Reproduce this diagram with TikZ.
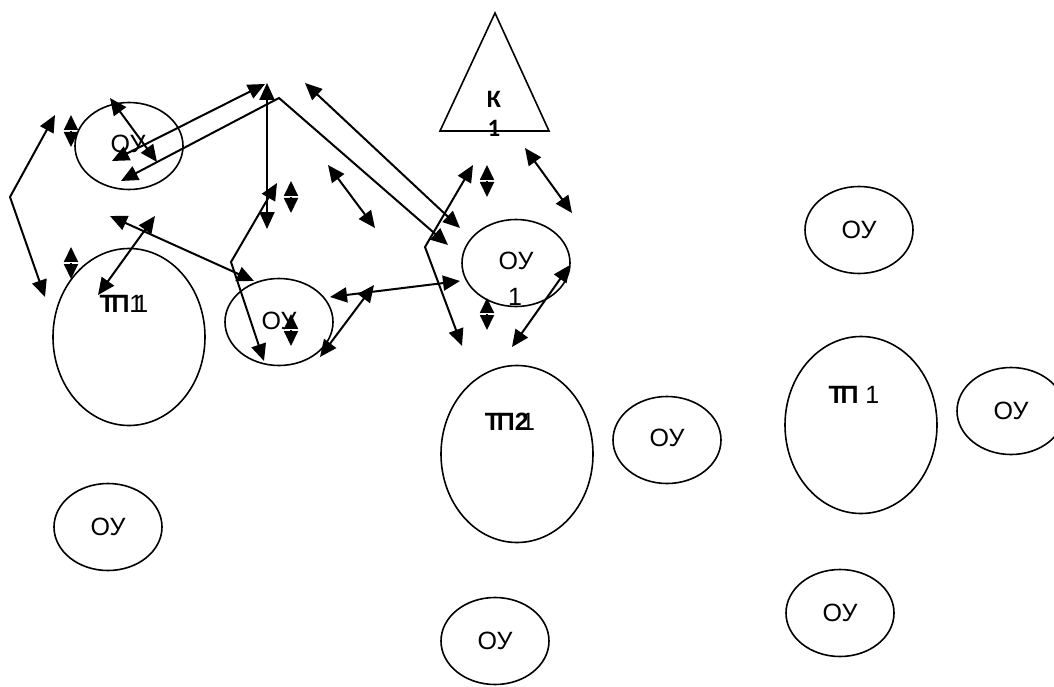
\documentclass[tikz,border=0pt]{standalone}
\usepackage{fontspec}
\setmainfont{Liberation Sans}
\newfontfamily\kfont{Carlito}
\usetikzlibrary{arrows.meta,shapes.geometric}
\newcommand{\tpw}{\textbf{Т\kern-0.14emП}}
\tikzset{
  shp/.style={draw, line width=1.6pt, ellipse, inner sep=0pt},
  ou/.style={shp, minimum width=108pt, minimum height=87pt},
  tp/.style={shp, minimum width=152pt, minimum height=177pt},
  lbl/.style={inner sep=0pt, font=\fontsize{25}{27}\selectfont},
  klbl/.style={inner sep=0pt, font=\kfont\bfseries\fontsize{25}{27}\selectfont},
  conn/.style={line width=2pt, {Triangle[length=17pt,width=15pt]}-{Triangle[length=17pt,width=15pt]}},
  tiny/.style={line width=1.8pt, {Triangle[length=15pt,width=14pt]}-{Triangle[length=15pt,width=14pt]}},
}
\begin{document}
\begin{tikzpicture}[x=1pt,y=-1pt]
\useasboundingbox (0,0) rectangle (1054,687);
\clip (0,0) rectangle (1054,687);
% shapes
\node[ou] (ou1) at (129,146) {};
\node[tp] (tp11) at (129,337) {};
\node[ou] (ou2) at (279,322) {};
\node[ou] (ou3) at (516,263) {};
\node[tp] (tp21) at (517,454) {};
\node[ou] (ou4) at (667,440) {};
\node[tp] (tp3) at (861,425) {};
\node[ou] (ou5) at (1011,411) {};
\node[ou] (ou6) at (859,230) {};
\node[ou] (ou7) at (108,527) {};
\node[ou] (ou8) at (495,641) {};
\node[ou] (ou9) at (840,613) {};
\coordinate (kt) at (495,13);
\coordinate (kl) at (440,131);
\coordinate (kr) at (549,131);
\draw[line width=1.6pt, line join=miter] (kt) -- (kl) -- (kr) -- cycle;
% labels
\node[lbl] (t1) at (128,144) {ОУ};
\node[lbl] (t2) at (124,304) {\tpw1\kern-0.36em1};
\node[lbl] (t3) at (279,321) {ОУ};
\node[lbl] (t4) at (516,261) {ОУ};
\node[lbl] (t4b) at (515,297) {1};
\node[lbl] (t5) at (510,422) {\tpw\textbf{2}\kern-0.3em1};
\node[lbl] (t6) at (667,438) {ОУ};
\node[lbl] (t7) at (854,395) {\tpw\ 1};
\node[lbl] (t8) at (1011,411) {ОУ};
\node[lbl] (t9) at (859,230) {ОУ};
\node[lbl] (t10) at (108,527) {ОУ};
\node[lbl] (t11) at (495,641) {ОУ};
\node[lbl] (t12) at (840,613) {ОУ};
\node[klbl] (k1) at (494,99) {К};
\node[klbl] (k2) at (494,128) {1};
% connector end points
\coordinate (l1) at (55,115); \coordinate (l2) at (10,197); \coordinate (l3) at (45,297);
\coordinate (a1) at (110,98); \coordinate (a2) at (157,162);
\coordinate (b1) at (112,161); \coordinate (b2) at (265,84);
\coordinate (c1) at (121,181); \coordinate (c2) at (279,98); \coordinate (c3) at (448,245);
\coordinate (d1) at (305,83); \coordinate (d2) at (460,228);
\coordinate (e1) at (267,83); \coordinate (e2) at (267,229);
\coordinate (f1) at (277,183); \coordinate (f2) at (231,262); \coordinate (f3) at (264,361);
\coordinate (g1) at (110,216); \coordinate (g2) at (254,281);
\coordinate (h1) at (155,216); \coordinate (h2) at (98,295);
\coordinate (i1) at (328,165); \coordinate (i2) at (375,228);
\coordinate (j1) at (473,165); \coordinate (j2) at (425,247); \coordinate (j3) at (462,346);
\coordinate (k1a) at (525,148); \coordinate (k2a) at (572,213);
\coordinate (m1) at (570,265); \coordinate (m2) at (512,347);
\coordinate (n1) at (330,297); \coordinate (n2) at (460,281);
\coordinate (o1) at (320,357); \coordinate (o2) at (374,285);
% connectors
\draw[conn, line join=miter] (l1) -- (l2) -- (l3);
\draw[conn] (a1) -- (a2);
\draw[conn] (b1) -- (b2);
\draw[conn, line join=miter] (c1) -- (c2) -- (c3);
\draw[conn] (d1) -- (d2);
\draw[conn] (e1) -- (e2);
\draw[conn, line join=miter] (f1) -- (f2) -- (f3);
\draw[conn] (g1) -- (g2);
\draw[conn] (h1) -- (h2);
\draw[conn] (i1) -- (i2);
\draw[conn, line join=miter] (j1) -- (j2) -- (j3);
\draw[conn] (k1a) -- (k2a);
\draw[conn] (m1) -- (m2);
\draw[conn] (n1) -- (n2);
\draw[conn] (o1) -- (o2);
% small vertical double arrows
\foreach \nm/\x/\y in {v1/71/131, v2/71/263, v3/291/197, v4/487/181, v5/487/314, v6/291/330}{
  \coordinate (\nm t) at (\x,\y-16);
  \coordinate (\nm b) at (\x,\y+16);
  \draw[tiny] (\nm t) -- (\nm b);
  \coordinate (\nm l) at (\x-6,\y-1);
  \coordinate (\nm r) at (\x+6,\y-1);
  \draw[white, line width=0.8pt] (\nm l) -- (\nm r);
}
\end{tikzpicture}
\end{document}
